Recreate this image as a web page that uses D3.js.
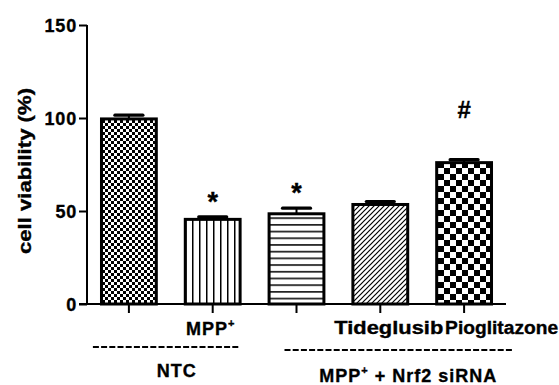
<!DOCTYPE html>
<html><head><meta charset="utf-8">
<script src="https://cdn.jsdelivr.net/npm/d3@7"></script>
<style>
body{margin:0;background:#fff}
svg{display:block}
text{font-family:"Liberation Sans",Arial,sans-serif;font-weight:bold;fill:#000;stroke:#000;stroke-width:0.35px}
</style>
</head><body><svg id="c" width="559" height="385"></svg>
<script>
// ---- data ----
const categories = ["NTC", "MPP+", "MPP+ siRNA", "Tideglusib", "Pioglitazone"];
const tickLabels = ["", "MPP", "", "Tideglusib", "Pioglitazone"];
const means = [99.5, 45.5, 48.5, 53.5, 76];
const errors = [2, 1.3, 3, 1.6, 1.6];
const marks = ["", "*", "*", "", "#"];
const yTicks = [0, 50, 100, 150];
const groupLabels = ["NTC", "MPP"];
const patternIds = ["checkFine", "vert", "horiz", "diag", "checkCoarse"];

const svg = d3.select("#c");
const x = d3.scaleBand().domain(categories).range([87, 506]).paddingInner(0.31).paddingOuter(0.155);
const y = d3.scaleLinear().domain([0, 150]).range([304, 25]);

// ---- patterns ----
const defs = svg.append("defs");
function pat(id, w, h) {
  const p = defs.append("pattern").attr("id", id).attr("patternUnits", "userSpaceOnUse")
    .attr("width", w).attr("height", h);
  p.append("rect").attr("width", w).attr("height", h).attr("fill", "#fff");
  return p;
}
let p = pat("checkFine", 6, 6);
p.append("rect").attr("width", 3).attr("height", 3).attr("fill", "#000");
p.append("rect").attr("x", 3).attr("y", 3).attr("width", 3).attr("height", 3).attr("fill", "#000");
p = pat("vert", 7, 7);
p.append("rect").attr("x", 3).attr("width", 1.5).attr("height", 7).attr("fill", "#000");
p = pat("horiz", 7, 6.7);
p.append("rect").attr("y", 3).attr("width", 7).attr("height", 1.5).attr("fill", "#000");
p = pat("diag", 5, 5);
p.append("path").attr("d", "M-1,6 L6,-1 M-1,1 L1,-1 M4,6 L6,4").attr("stroke", "#000").attr("stroke-width", 1.2);
p = pat("checkCoarse", 12, 12);
p.append("rect").attr("width", 6).attr("height", 6).attr("fill", "#000");
p.append("rect").attr("x", 6).attr("y", 6).attr("width", 6).attr("height", 6).attr("fill", "#000");

// ---- bars ----
const cx = i => x(categories[i]) + x.bandwidth() / 2;
const bw = x.bandwidth() - 3;
categories.forEach((c, i) => {
  svg.append("rect")
    .attr("x", cx(i) - bw / 2).attr("y", y(means[i]))
    .attr("width", bw).attr("height", y(0) - y(means[i]))
    .attr("fill", "url(#" + patternIds[i] + ")")
    .attr("stroke", "#000").attr("stroke-width", 3);
  // error bar (upper)
  svg.append("line").attr("x1", cx(i)).attr("x2", cx(i))
    .attr("y1", y(means[i])).attr("y2", y(means[i] + errors[i]))
    .attr("stroke", "#000").attr("stroke-width", 2);
  svg.append("line").attr("x1", cx(i) - 14).attr("x2", cx(i) + 14)
    .attr("y1", y(means[i] + errors[i])).attr("y2", y(means[i] + errors[i]))
    .attr("stroke", "#000").attr("stroke-width", 3.2).attr("stroke-linecap", "round");
  if (marks[i]) {
    const isHash = marks[i] === "#";
    svg.append("text").attr("x", cx(i)).attr("y", y(means[i] + errors[i]) - (isHash ? 42 : 6))
      .attr("text-anchor", "middle")
      .attr("font-size", isHash ? 24 : 27)
      .text(marks[i]);
  }
});

// ---- axes ----
const yAxis = svg.append("g").attr("transform", "translate(87,0)")
  .call(d3.axisLeft(y).tickValues(yTicks).tickSize(8).tickPadding(3).tickFormat(d3.format("d")));
yAxis.select(".domain").attr("stroke-width", 2).attr("d", "M0," + y(150) + "V" + y(0));
yAxis.selectAll(".tick line").attr("stroke-width", 2);
yAxis.selectAll(".tick text").attr("font-size", 18).attr("dy", "0.36em")
  .attr("font-family", null).attr("x", -10).attr("letter-spacing", 0.8);

const xAxis = svg.append("g").attr("transform", "translate(0,304)")
  .call(d3.axisBottom(x).tickSize(9).tickFormat(""));
xAxis.select(".domain").attr("stroke-width", 2).attr("d", "M79,0H506");
xAxis.selectAll(".tick line").attr("stroke-width", 2);

// x tick labels
const mpp = svg.append("text").attr("x", cx(1) - 2).attr("y", 335).attr("text-anchor", "middle")
  .attr("font-size", 18).attr("letter-spacing", 1);
mpp.append("tspan").text(tickLabels[1]);
mpp.append("tspan").attr("dy", -8).attr("font-size", 11).text("+");
svg.append("text").attr("x", cx(3) - 46).attr("y", 334).attr("font-size", 18)
  .attr("textLength", 109).attr("lengthAdjust", "spacingAndGlyphs").text(tickLabels[3]);
svg.append("text").attr("x", cx(4) - 19).attr("y", 334).attr("font-size", 18)
  .attr("textLength", 113).attr("lengthAdjust", "spacingAndGlyphs").text(tickLabels[4]);

// group separators (dashed)
svg.append("line").attr("x1", cx(0) - 36).attr("x2", cx(1) + 27).attr("y1", 347).attr("y2", 347)
  .attr("stroke", "#000").attr("stroke-width", 2.2).attr("stroke-dasharray", "6,2.2");
svg.append("line").attr("x1", cx(2) - 12).attr("x2", cx(4) + 50).attr("y1", 350).attr("y2", 350)
  .attr("stroke", "#000").attr("stroke-width", 2.2).attr("stroke-dasharray", "6,2.2");

svg.append("text").attr("x", (cx(0) + cx(1)) / 2 + 6).attr("y", 377).attr("text-anchor", "middle")
  .attr("font-size", 18).attr("letter-spacing", 1).text(groupLabels[0]);
const g2 = svg.append("text").attr("x", cx(3) + 28).attr("y", 382).attr("text-anchor", "middle")
  .attr("font-size", 18).attr("letter-spacing", 1);
g2.append("tspan").text(groupLabels[1]);
g2.append("tspan").attr("dy", -8).attr("font-size", 11).text("+");
g2.append("tspan").attr("dy", 8).text(" + Nrf2 siRNA");

// y title
svg.append("text").attr("transform", "translate(31,171) rotate(-90)").attr("text-anchor", "middle")
  .attr("font-size", 18).attr("textLength", 166).attr("lengthAdjust", "spacingAndGlyphs")
  .text("cell viability (%)");
</script>
</body></html>
